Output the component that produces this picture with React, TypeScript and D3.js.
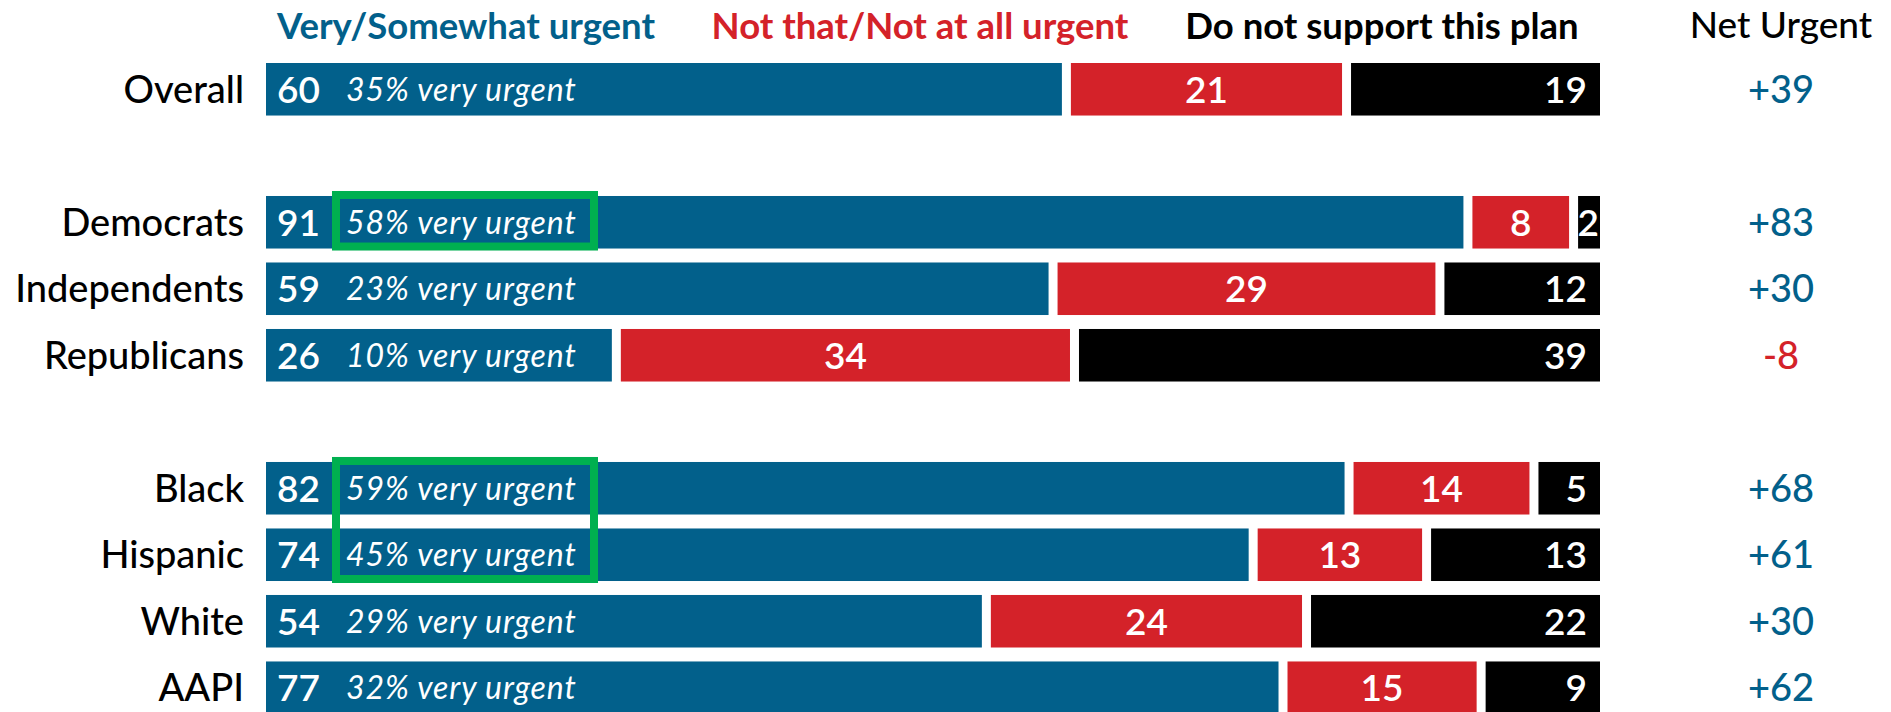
import React, { useEffect, useRef } from 'react';
import * as d3 from 'd3';

// rows, top to bottom; blank slots keep the group spacing
const rowSlots = ['Overall', 'gap-1', 'Democrats', 'Independents', 'Republicans', 'gap-2', 'Black', 'Hispanic', 'White', 'AAPI'];
const categories = ['Overall', 'Democrats', 'Independents', 'Republicans', 'Black', 'Hispanic', 'White', 'AAPI'];
const urgent = [60, 91, 59, 26, 82, 74, 54, 77];
const notUrgent = [21, 8, 29, 34, 14, 13, 24, 15];
const noSupport = [19, 2, 12, 39, 5, 13, 22, 9];
const veryUrgent = [35, 58, 23, 10, 59, 45, 29, 32];
const netUrgent = [39, 83, 30, -8, 68, 61, 30, 62];
const seriesNames = ['Very/Somewhat urgent', 'Not that/Not at all urgent', 'Do not support this plan'];
const netTitle = 'Net Urgent';
const highlighted = [['Democrats'], ['Black', 'Hispanic']];

const BLUE = '#02608b';
const RED = '#d42229';
const BLACK = '#000000';
const GREEN = '#00b050';
const FONT = 'Lato, sans-serif';

const W = 1891;
const H = 712;

const App: React.FC = () => {
  const svgRef = useRef<SVGSVGElement | null>(null);

  useEffect(() => {
    if (!svgRef.current) return;
    const svg = d3.select(svgRef.current);
    svg.selectAll('*').remove();

    const barLeft = 266;
    const barRight = 1600;
    const gap = 9;

    const y = d3.scaleBand<string>()
      .domain(rowSlots)
      .range([63, 714])
      .paddingInner(0.21)
      .paddingOuter(0);

    const colors = [BLUE, RED, BLACK];
    const headerX = [466, 920, 1382];

    // column headers
    svg.append('g')
      .attr('font-family', FONT)
      .attr('font-size', 36.5)
      .attr('font-weight', 700)
      .attr('text-anchor', 'middle')
      .selectAll('text')
      .data(seriesNames)
      .join('text')
      .attr('x', (_, i) => headerX[i])
      .attr('y', 39)
      .attr('fill', (_, i) => colors[i])
      .text(d => d);

    svg.append('text')
      .attr('font-family', FONT)
      .attr('font-size', 37)
      .attr('font-weight', 500)
      .attr('text-anchor', 'middle')
      .attr('x', 1781)
      .attr('y', 38)
      .attr('fill', BLACK)
      .text(netTitle);

    const rows = categories.map((name, i) => ({
      name,
      values: [urgent[i], notUrgent[i], noSupport[i]],
      very: veryUrgent[i],
      net: netUrgent[i],
    }));

    const row = svg.append('g')
      .selectAll('g')
      .data(rows)
      .join('g')
      .attr('transform', d => `translate(0,${y(d.name)})`);

    const bh = y.bandwidth();

    // category labels
    row.append('text')
      .attr('font-family', FONT)
      .attr('font-size', 38)
      .attr('font-weight', 500)
      .attr('text-anchor', 'end')
      .attr('x', 244)
      .attr('y', bh / 2)
      .attr('dy', '0.36em')
      .attr('fill', BLACK)
      .text(d => d.name);

    row.each(function (d) {
      const g = d3.select(this);
      const total = d3.sum(d.values);
      const x = d3.scaleLinear().domain([0, total]).range([barLeft, barRight]);
      const starts = d3.cumsum([0, ...d.values]);
      d.values.forEach((v, j) => {
        const x0 = j === 0 ? x(0) : x(starts[j]) + gap / 2;
        const x1 = j === d.values.length - 1 ? x(total) : x(starts[j + 1]) - gap / 2;
        g.append('rect')
          .attr('x', x0)
          .attr('y', 0)
          .attr('width', Math.max(0, x1 - x0))
          .attr('height', bh)
          .attr('fill', colors[j]);

        const label = g.append('text')
          .attr('font-family', FONT)
          .attr('font-size', 37)
          .attr('font-weight', 600)
          .attr('fill', '#fff')
          .attr('y', bh / 2)
          .attr('dy', '0.36em')
          .text(v);
        if (j === 0) {
          label.attr('x', x0 + 11).attr('text-anchor', 'start');
        } else if (j === 1) {
          label.attr('x', (x0 + x1) / 2).attr('text-anchor', 'middle');
        } else {
          label.attr('x', x1 - (x1 - x0 < 40 ? 1 : 13)).attr('text-anchor', 'end');
        }
      });

      g.append('text')
        .attr('font-family', FONT)
        .attr('font-size', 32)
        .attr('font-style', 'italic')
        .attr('letter-spacing', 0.9)
        .attr('fill', '#fff')
        .attr('x', 346)
        .attr('y', bh / 2)
        .attr('dy', '0.36em')
        .text(`${d.very}% very urgent`);

      g.append('text')
        .attr('font-family', FONT)
        .attr('font-size', 38)
        .attr('font-weight', 500)
        .attr('text-anchor', 'middle')
        .attr('fill', d.net < 0 ? RED : BLUE)
        .attr('x', 1781)
        .attr('y', bh / 2)
        .attr('dy', '0.36em')
        .text(d.net > 0 ? `+${d.net}` : `${d.net}`);
    });

    // green highlight boxes around the "very urgent" labels
    svg.append('g')
      .selectAll('rect')
      .data(highlighted)
      .join('rect')
      .attr('x', 336)
      .attr('width', 258)
      .attr('y', d => (y(d[0]) ?? 0) - 1)
      .attr('height', d => (y(d[d.length - 1]) ?? 0) + bh - (y(d[0]) ?? 0) - 1)
      .attr('fill', 'none')
      .attr('stroke', GREEN)
      .attr('stroke-width', 8);
  }, []);

  return (
    <div style={{ position: 'absolute', left: 0, top: 0 }}>
      <svg ref={svgRef} width={W} height={H} style={{ display: 'block', background: '#fff' }} />
    </div>
  );
};

export default App;
